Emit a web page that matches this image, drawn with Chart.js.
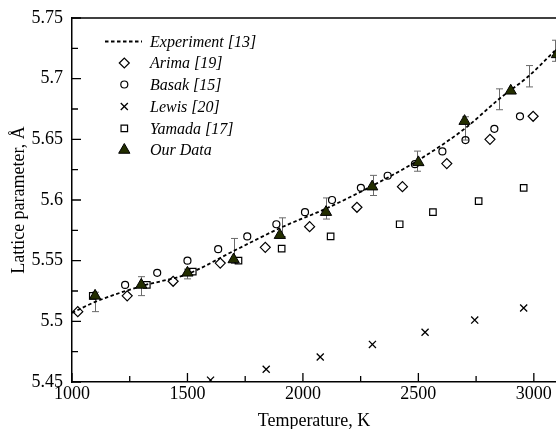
<!DOCTYPE html>
<html>
<head>
<meta charset="utf-8">
<script src="https://cdn.jsdelivr.net/npm/chart.js@4.4.0/dist/chart.umd.min.js"></script>
<style>
  html, body { margin: 0; padding: 0; background: #fff; overflow: hidden; }
  #wrap { width: 556px; height: 429px; }
</style>
</head>
<body>
<div id="wrap"><canvas id="chart" width="556" height="429"></canvas></div>
<script>
// tick values
const xTicks = [1000, 1500, 2000, 2500, 3000];
const xMinor = [1250, 1750, 2250, 2750];
const yTicks = [5.45, 5.5, 5.55, 5.6, 5.65, 5.7, 5.75];
const yMinor = [5.475, 5.525, 5.575, 5.625, 5.675, 5.725];

// Experiment [13] (dashed line + error bars)
const expT   = [1000, 1100, 1300, 1500, 1700, 1908, 2101, 2303, 2493, 2702, 2848, 2977, 3091];
const expV   = [5.507, 5.516, 5.529, 5.539, 5.558, 5.5775, 5.593, 5.612, 5.632, 5.659, 5.683, 5.702, 5.723];
const expErr = [0, 0.008, 0.0078, 0.004, 0.0103, 0.0078, 0.0087, 0.0083, 0.0083, 0.0096, 0.0086, 0.0088, 0.0087];

// Arima [19]
const arimaT = [1025, 1239, 1438, 1642, 1837, 2029, 2234, 2431, 2623, 2810, 2997];
const arimaV = [5.508, 5.521, 5.533, 5.548, 5.561, 5.578, 5.594, 5.611, 5.630, 5.650, 5.669];

// Basak [15]
const basakT = [1230, 1369, 1500, 1633, 1759, 1885, 2009, 2126, 2251, 2367, 2485, 2604, 2704, 2829, 2940];
const basakV = [5.530, 5.540, 5.550, 5.5595, 5.570, 5.580, 5.590, 5.600, 5.610, 5.620, 5.6295, 5.640, 5.6494, 5.6587, 5.669];

// Lewis [20]
const lewisT = [1600, 1841, 2075, 2301, 2529, 2744, 2956];
const lewisV = [5.4515, 5.4605, 5.4706, 5.481, 5.491, 5.501, 5.511];

// Yamada [17]
const yamadaT = [1090, 1324, 1523, 1721, 1908, 2120, 2419, 2563, 2761, 2956];
const yamadaV = [5.521, 5.530, 5.541, 5.550, 5.560, 5.570, 5.580, 5.590, 5.599, 5.610];

// Our Data
const ourT = [1100, 1300, 1500, 1700, 1900, 2100, 2300, 2500, 2700, 2900, 3100];
const ourV = [5.521, 5.530, 5.540, 5.551, 5.571, 5.590, 5.611, 5.631, 5.665, 5.690, 5.720];

const FONT = "'Liberation Serif', 'Times New Roman', serif";
const OLIVE = "#232e00";

function pts(xs, ys) {
  return xs.map((x, i) => ({ x: x, y: ys[i] }));
}

const markerOpts = {
  arima:  { pointStyle: "rectRot",  radius: 5,   bg: "rgba(0,0,0,0)", bw: 1.2 },
  basak:  { pointStyle: "circle",   radius: 3.5, bg: "rgba(0,0,0,0)", bw: 1.2 },
  lewis:  { pointStyle: "crossRot", radius: 5,   bg: "rgba(0,0,0,0)", bw: 1.3 },
  yamada: { pointStyle: "rect",     radius: 4.6, bg: "rgba(0,0,0,0)", bw: 1.2 },
  ours:   { pointStyle: "triangle", radius: 6.5, bg: OLIVE,           bw: 1 }
};

function scatterSet(label, data, m) {
  return {
    type: "scatter",
    label: label,
    data: data,
    pointStyle: m.pointStyle,
    pointRadius: m.radius,
    pointHoverRadius: m.radius,
    pointBackgroundColor: m.bg,
    pointBorderColor: "#000",
    pointBorderWidth: m.bw,
    clip: 0
  };
}

const legendRows = [
  { label: "Experiment [13]", y: 41.5 },
  { label: "Arima [19]", y: 63, m: markerOpts.arima },
  { label: "Basak [15]", y: 84.5, m: markerOpts.basak },
  { label: "Lewis [20]", y: 106.5, m: markerOpts.lewis },
  { label: "Yamada [17]", y: 128.3, m: markerOpts.yamada },
  { label: "Our Data", y: 150, m: markerOpts.ours }
];

const deco = {
  id: "deco",
  beforeDatasetsDraw(chart) {
    // error bars of the experiment
    const ctx = chart.ctx, xs = chart.scales.x, ys = chart.scales.y;
    ctx.save();
    ctx.strokeStyle = "#6a6a6a";
    ctx.lineWidth = 1;
    expT.forEach((t, i) => {
      if (!expErr[i]) return;
      const px = Math.round(xs.getPixelForValue(t)) + 0.5;
      const y1 = ys.getPixelForValue(expV[i] + expErr[i]);
      const y2 = ys.getPixelForValue(expV[i] - expErr[i]);
      ctx.beginPath();
      ctx.moveTo(px, y1); ctx.lineTo(px, y2);
      ctx.moveTo(px - 3.5, y1); ctx.lineTo(px + 3.5, y1);
      ctx.moveTo(px - 3.5, y2); ctx.lineTo(px + 3.5, y2);
      ctx.stroke();
    });
    ctx.restore();
  },
  afterDraw(chart) {
    const ctx = chart.ctx, xs = chart.scales.x, ys = chart.scales.y;
    const a = chart.chartArea;
    ctx.save();
    ctx.strokeStyle = "#000";
    ctx.lineWidth = 1.5;
    // top frame line
    ctx.beginPath();
    ctx.moveTo(a.left, a.top); ctx.lineTo(a.right, a.top);
    ctx.stroke();
    // inward ticks
    ctx.lineWidth = 1.3;
    ctx.beginPath();
    xTicks.forEach(v => { const p = xs.getPixelForValue(v); ctx.moveTo(p, a.bottom); ctx.lineTo(p, a.bottom - 9); });
    xMinor.forEach(v => { const p = xs.getPixelForValue(v); ctx.moveTo(p, a.bottom); ctx.lineTo(p, a.bottom - 6); });
    yTicks.forEach(v => { const p = ys.getPixelForValue(v); ctx.moveTo(a.left, p); ctx.lineTo(a.left + 9, p); });
    yMinor.forEach(v => { const p = ys.getPixelForValue(v); ctx.moveTo(a.left, p); ctx.lineTo(a.left + 6, p); });
    ctx.stroke();

    // axis titles
    ctx.fillStyle = "#000";
    ctx.font = "18px " + FONT;
    ctx.textAlign = "center";
    ctx.textBaseline = "middle";
    ctx.fillText("Temperature, K", (a.left + a.right) / 2, 421);
    ctx.save();
    ctx.translate(19, (a.top + a.bottom) / 2);
    ctx.rotate(-Math.PI / 2);
    ctx.fillText("Lattice parameter, Å", 0, 0);
    ctx.restore();

    // legend
    ctx.font = "italic 16px " + FONT;
    ctx.textAlign = "left";
    legendRows.forEach(r => {
      if (!r.m) {
        ctx.save();
        ctx.setLineDash([3.5, 2.5]);
        ctx.lineWidth = 1.8;
        ctx.beginPath();
        ctx.moveTo(105, r.y); ctx.lineTo(142, r.y);
        ctx.stroke();
        ctx.restore();
      } else {
        ctx.save();
        ctx.fillStyle = r.m.bg;
        ctx.strokeStyle = "#000";
        ctx.lineWidth = r.m.bw;
        Chart.helpers.drawPoint(ctx, { pointStyle: r.m.pointStyle, radius: r.m.radius, rotation: 0, borderWidth: r.m.bw }, 124.3, r.y);
        ctx.restore();
      }
      ctx.fillText(r.label, 150, r.y + 1);
    });
    ctx.restore();
  }
};

new Chart(document.getElementById("chart"), {
  data: {
    datasets: [
      scatterSet("Our Data", pts(ourT, ourV), markerOpts.ours),
      scatterSet("Arima [19]", pts(arimaT, arimaV), markerOpts.arima),
      scatterSet("Basak [15]", pts(basakT, basakV), markerOpts.basak),
      scatterSet("Lewis [20]", pts(lewisT, lewisV), markerOpts.lewis),
      scatterSet("Yamada [17]", pts(yamadaT, yamadaV), markerOpts.yamada),
      {
        type: "line",
        label: "Experiment [13]",
        data: pts(expT, expV),
        borderColor: "#000",
        borderWidth: 1.8,
        borderDash: [3.5, 2.5],
        pointRadius: 0,
        fill: false,
        tension: 0.4,
        cubicInterpolationMode: "monotone",
        clip: 0
      }
    ]
  },
  options: {
    responsive: false,
    animation: false,
    devicePixelRatio: 1,
    layout: { autoPadding: false, padding: { top: 18, right: 0, bottom: 0, left: 0 } },
    plugins: { legend: { display: false }, tooltip: { enabled: false } },
    scales: {
      x: {
        type: "linear",
        min: 1000,
        max: 3096,
        afterBuildTicks: s => { s.ticks = xTicks.map(v => ({ value: v })); },
        afterFit: s => { s.height = 47; s.paddingLeft = 0; s.paddingRight = 0; },
        ticks: {
          color: "#000", font: { family: FONT, size: 18 }, padding: 1,
          maxRotation: 0, autoSkip: false, callback: v => String(v)
        },
        grid: { display: false, drawTicks: false },
        border: { display: true, color: "#000", width: 1.5 }
      },
      y: {
        type: "linear",
        min: 5.45,
        max: 5.75,
        afterBuildTicks: s => { s.ticks = yTicks.map(v => ({ value: v })); },
        afterFit: s => { s.width = 72; s.paddingTop = 0; s.paddingBottom = 0; },
        ticks: {
          color: "#000", font: { family: FONT, size: 18 }, padding: 9,
          autoSkip: false, callback: v => String(+v.toFixed(2))
        },
        grid: { display: false, drawTicks: false },
        border: { display: true, color: "#000", width: 1.5 }
      }
    }
  },
  plugins: [deco]
});
</script>
</body>
</html>
